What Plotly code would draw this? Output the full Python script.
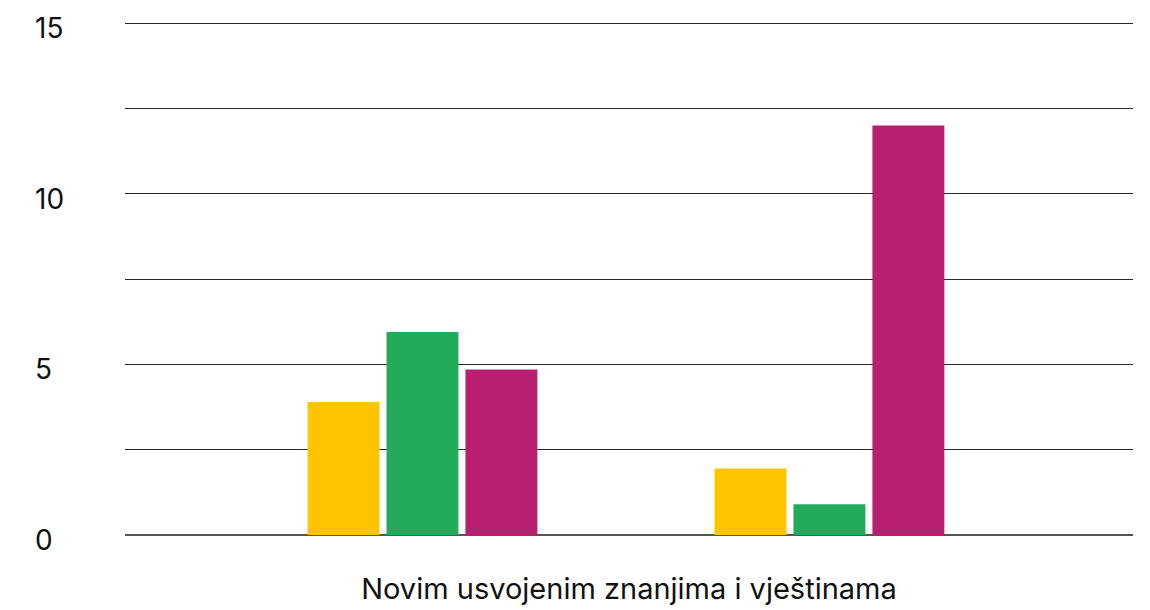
import plotly.graph_objects as go

categories = ["Grupa 1", "Grupa 2"]
series_names = ["Serija 1", "Serija 2", "Serija 3"]
series_values = [
    [3.9, 1.95],
    [5.95, 0.9],
    [4.85, 12.0],
]
colors = ["#FFC400", "#23AB5C", "#B81F70"]
y_tick_vals = [0, 5, 10, 15]
y_tick_labels = ["0", "5", "10", "15"]
x_title = "Novim usvojenim znanjima i vještinama"

# page has an 8px body margin, so the figure is sized to fit inside the window
W, H = 1142, 602
ml, mr, mt, mb = 117, 17, 14, 75
ymax = 15.03

fig = go.Figure()
for name, vals, col in zip(series_names, series_values, colors):
    fig.add_trace(go.Bar(x=categories, y=vals, name=name, marker_color=col,
                         marker_line_width=0))

annotations = []
for v, t in zip(y_tick_vals, y_tick_labels):
    annotations.append(dict(x=(25 - ml) / (W - ml - mr), xref="paper", y=v, yref="y",
                            text=t, showarrow=False, xanchor="left", yanchor="middle",
                            yshift=-5,
                            font=dict(family="Inter", size=28, color="#111111")))

fig.update_layout(
    width=W, height=H,
    margin=dict(l=ml, r=mr, t=mt, b=mb),
    paper_bgcolor="white", plot_bgcolor="white",
    showlegend=False,
    barmode="group", bargap=0.418, bargroupgap=0.089,
    font=dict(family="Inter", color="#111111"),
    annotations=annotations,
    xaxis=dict(range=[-0.731, 1.746], showticklabels=False, showgrid=False,
               zeroline=False, showline=False, ticks="",
               title=dict(text=x_title, font=dict(family="Inter", size=29, color="#111111"),
                          standoff=43)),
    yaxis=dict(range=[0, ymax], tickvals=[0, 2.5, 5, 7.5, 10, 12.5, 15], showticklabels=False,
               showgrid=True, gridcolor="#2a2a2a", gridwidth=1,
               zeroline=True, zerolinecolor="#555555", zerolinewidth=2, ticks=""),
)

fig.write_html("out.html")
